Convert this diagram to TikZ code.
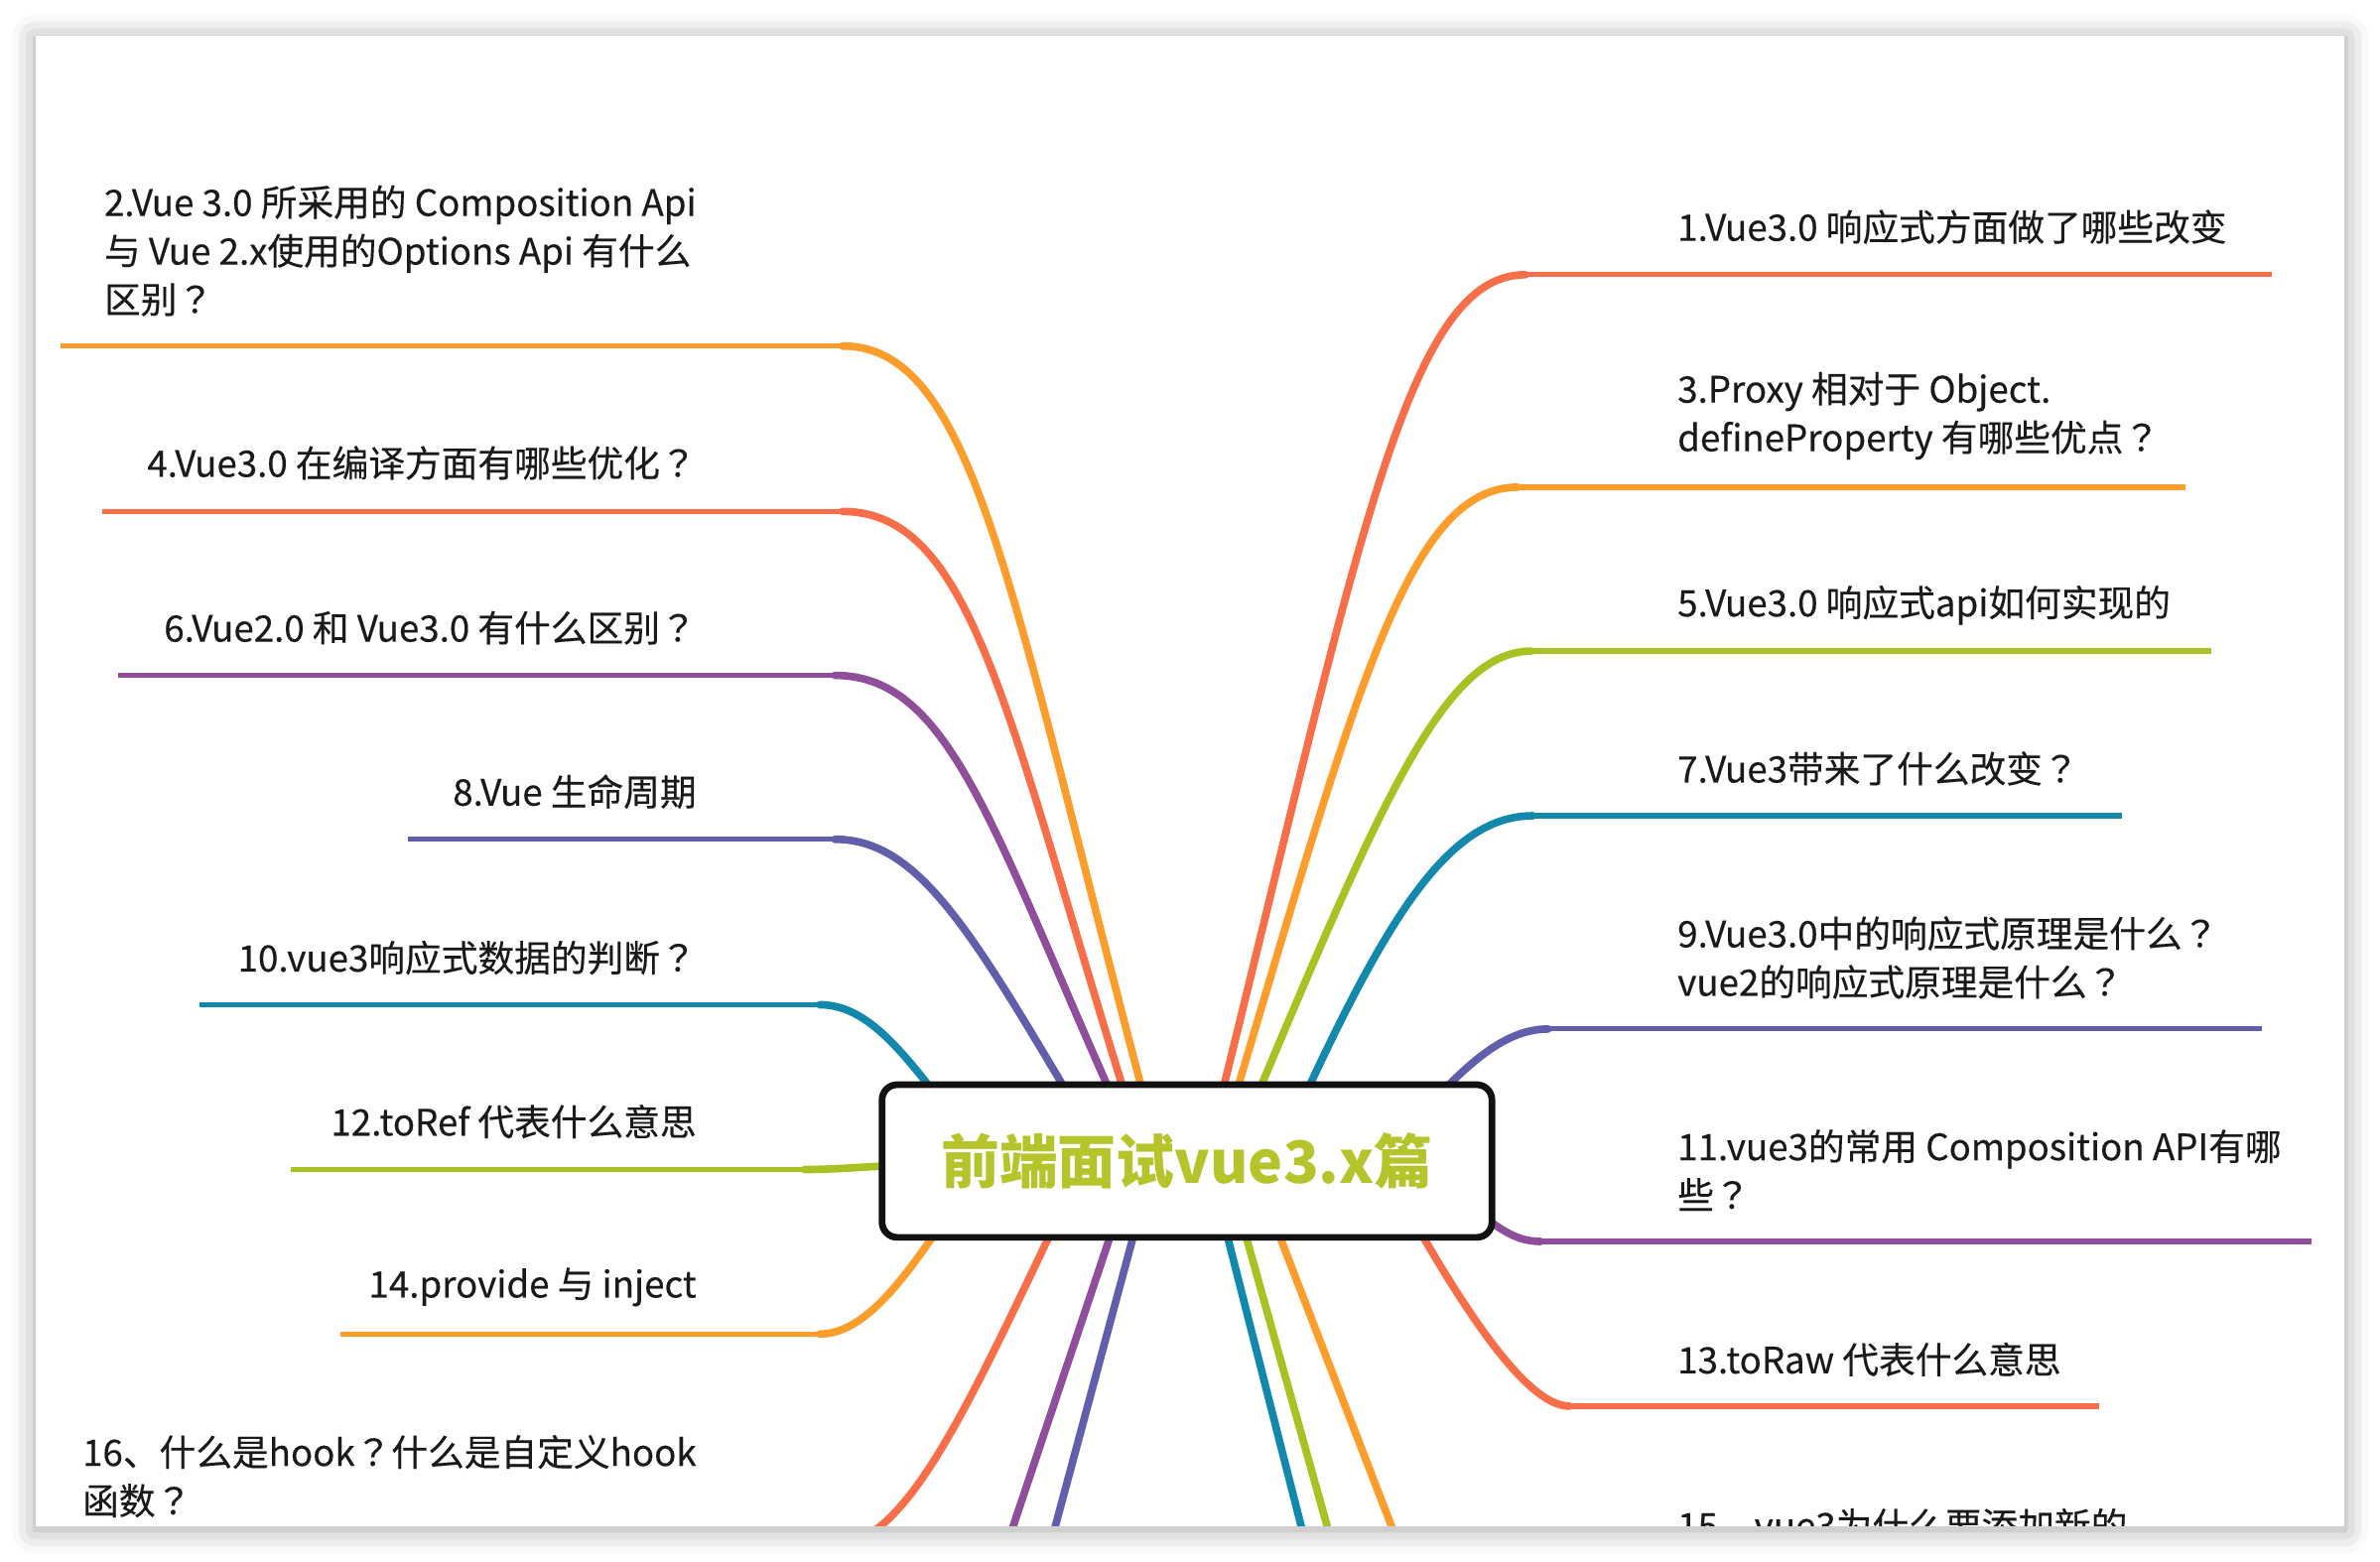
\documentclass[tikz,border=0pt]{standalone}
\usepackage{fontspec}
\setmainfont{Noto Sans CJK SC}
\newfontfamily\labfont{Noto Sans CJK SC}[FakeBold=0.3]
\newfontfamily\tcfont{Noto Sans CJK TC}[FakeBold=0.3]
\newcommand{\qm}{{\tcfont ？}}
\usetikzlibrary{backgrounds,shadows.blur}

\definecolor{coral}{RGB}{247,110,72}
\definecolor{amber}{RGB}{252,157,44}
\definecolor{lime}{RGB}{170,193,35}
\definecolor{sea}{RGB}{18,136,172}
\definecolor{indigo}{RGB}{97,95,172}
\definecolor{plum}{RGB}{143,78,154}
\definecolor{titlegreen}{RGB}{181,196,42}
\definecolor{ink}{RGB}{26,26,26}
\definecolor{boxblack}{RGB}{17,17,17}

\begin{document}
\begin{tikzpicture}[x=1pt, y=-1pt,
    curve/.style={line width=5pt, line cap=round},
    uline/.style={line width=3.4pt},
    lab/.style={inner sep=0pt, text=ink, align=left, font=\labfont\fontsize{24}{32}\selectfont}]

    \useasboundingbox (0,0) rectangle (1568,1029.2);

    \node[draw=boxblack, line width=4.4pt, rounded corners=10pt, fill=white,
      minimum width=401.8pt, minimum height=100.6pt, inner sep=0pt,
      text=titlegreen, font=\fontsize{38.5}{46}\selectfont\bfseries] (c) at (782,765) {前端面试vue3.x篇};

    \node[lab, anchor=west] (l1) at (1105,149.5) {1.Vue3.0 响应式方面做了哪些改变};

    \node[lab, anchor=west] (l3) at (1105,274) {3.Proxy 相对于 Object.\\defineProperty 有哪些优点\qm};

    \node[lab, anchor=west] (l5) at (1105,398.7) {5.Vue3.0 响应式api如何实现的};

    \node[lab, anchor=west] (l7) at (1105,506.4) {7.Vue3带来了什么改变\qm};

    \node[lab, anchor=west] (l9) at (1105,631) {9.Vue3.0中的响应式原理是什么\qm\\vue2的响应式原理是什么\qm};

    \node[lab, anchor=west] (l11) at (1105,771) {11.vue3的常用 Composition API有哪\\些\qm};

    \node[lab, anchor=west] (l13) at (1105,895.7) {13.toRaw 代表什么意思};

    \node[lab, anchor=east] (l2) at (459,165.2) {2.Vue 3.0 所采用的 Composition Api\\与 Vue 2.x使用的Options Api 有什么\\区别\qm};

    \node[lab, anchor=east] (l4) at (459,305) {4.Vue3.0 在编译方面有哪些优化\qm};

    \node[lab, anchor=east] (l6) at (459,413.7) {6.Vue2.0 和 Vue3.0 有什么区别\qm};

    \node[lab, anchor=east] (l8) at (459,521.6) {8.Vue 生命周期};

    \node[lab, anchor=east] (l10) at (459,631) {10.vue3响应式数据的判断\qm};

    \node[lab, anchor=east] (l12) at (459,739) {12.toRef 代表什么意思};

    \node[lab, anchor=east] (l14) at (459,848) {14.provide 与 inject};

    \node[lab, anchor=east] (l16) at (459,972.7) {16、什么是hook\qm 什么是自定义hook\\函数\qm};

    \begin{scope}
      \clip (23.7,23.4) rectangle (1544.5,1005.6);

      \node[lab, anchor=west] (l15) at (1105,1005) {15、vue3为什么要添加新的};
    \end{scope}

    \begin{scope}[on background layer]

      \fill[white, blur shadow={shadow blur radius=16pt, shadow xshift=0pt,
        shadow yshift=-2pt, shadow opacity=38}] (23.7,23.4) rectangle (1544.5,1005.6);

      \clip (23.7,23.4) rectangle (1544.5,1005.6);

      \coordinate (j1) at (1005,181);
      \coordinate (e1) at (1497,181);
      \coordinate (j3) at (1000,321);
      \coordinate (e3) at (1440,321);
      \coordinate (j5) at (1009,429);
      \coordinate (e5) at (1457,429);
      \coordinate (j7) at (1010,537.5);
      \coordinate (e7) at (1398,537.5);
      \coordinate (j9) at (1020,678);
      \coordinate (e9) at (1490,678);
      \coordinate (j11) at (1015,818);
      \coordinate (e11) at (1523,818);
      \coordinate (j13) at (1034,926.5);
      \coordinate (e13) at (1383,926.5);

      \coordinate (j2) at (555,228);
      \coordinate (e2) at (40,228);
      \coordinate (j4) at (555,337);
      \coordinate (e4) at (67.6,337);
      \coordinate (j6) at (550,445);
      \coordinate (e6) at (77.6,445);
      \coordinate (j8) at (550,553);
      \coordinate (e8) at (269,553);
      \coordinate (j10) at (540,662);
      \coordinate (e10) at (131.6,662);
      \coordinate (j12) at (530,770.6);
      \coordinate (e12) at (191.7,770.6);
      \coordinate (j14) at (540,879);
      \coordinate (e14) at (224,879);
      \coordinate (j16) at (545,1020);

      \coordinate (f15) at (930,1040);
      \coordinate (f17) at (884,1040);
      \coordinate (f19) at (866,1040);
      \coordinate (f18) at (656,1040);
      \coordinate (f20) at (686,1040);

      \draw[curve, coral] (c.center) ++(12,0) .. controls +(100,-400) and +(-80,0) .. (j1);
      \draw[uline, coral] (j1) -- (e1);

      \draw[curve, amber] (c.center) ++(19,0) .. controls +(90,-300) and +(-75,0) .. (j3);
      \draw[uline, amber] (j3) -- (e3);

      \draw[curve, lime] (c.center) ++(28,0) .. controls +(96,-228) and +(-60,0) .. (j5);
      \draw[uline, lime] (j5) -- (e5);

      \draw[curve, sea] (c.center) ++(58,0) .. controls +(67.5,-150) and +(-60,0) .. (j7);
      \draw[uline, sea] (j7) -- (e7);

      \draw[curve, indigo] (c.center) ++(153,-30) .. controls +(30,-32) and +(-30,0) .. (j9);
      \draw[uline, indigo] (j9) -- (e9);

      \draw[curve, plum] (c.center) ++(178,25) .. controls +(25,16) and +(-20,0) .. (j11);
      \draw[uline, plum] (j11) -- (e11);

      \draw[curve, coral] (c.center) ++(133,10) .. controls +(44,80) and +(-30,0) .. (j13);
      \draw[uline, coral] (j13) -- (e13);

      \draw[curve, amber] (c.center) ++(42,0) -- (f15);

      \draw[curve, lime] (c.center) ++(25,0) -- (f17);

      \draw[curve, sea] (c.center) ++(14,0) -- (f19);

      \draw[curve, amber] (c.center) ++(-17,0) .. controls +(-98.5,-365) and +(90,0) .. (j2);
      \draw[uline, amber] (j2) -- (e2);

      \draw[curve, coral] (c.center) ++(-27,0) .. controls +(-89.6,-280) and +(90,0) .. (j4);
      \draw[uline, coral] (j4) -- (e4);

      \draw[curve, plum] (c.center) ++(-30,0) .. controls +(-95.7,-208) and +(80,0) .. (j6);
      \draw[uline, plum] (j6) -- (e6);

      \draw[curve, indigo] (c.center) ++(-52,0) .. controls +(-84,-140) and +(60,0) .. (j8);
      \draw[uline, indigo] (j8) -- (e8);

      \draw[curve, sea] (c.center) ++(-142,-13) .. controls +(-40,-52) and +(35,0) .. (j10);
      \draw[uline, sea] (j10) -- (e10);

      \draw[curve, lime] (c.center) ++(-142,1) .. controls +(-40,0) and +(30,0) .. (j12);
      \draw[uline, lime] (j12) -- (e12);

      \draw[curve, amber] (c.center) ++(-147,20) .. controls +(-30,43) and +(35,0) .. (j14);
      \draw[uline, amber] (j14) -- (e14);

      \draw[curve, coral] (c.center) ++(-67,0) .. controls +(-75,155) and +(55,0) .. (j16);

      \draw[curve, plum] (c.center) ++(-34,0) -- (f18);

      \draw[curve, indigo] (c.center) ++(-22,0) -- (f20);

    \end{scope}

\end{tikzpicture}
\end{document}
